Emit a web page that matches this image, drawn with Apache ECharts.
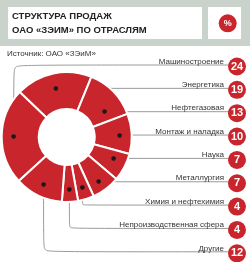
<!DOCTYPE html>
<html><head><meta charset="utf-8">
<script src="https://cdn.jsdelivr.net/npm/echarts@6/dist/echarts.min.js"></script>
<style>html,body{margin:0;padding:0;background:#fff}#c{width:250px;height:262px}</style>
</head><body><div id="c"></div>
<script>
const titleLines = ['СТРУКТУРА ПРОДАЖ', 'ОАО «ЗЭИМ» ПО ОТРАСЛЯМ'];
const unitLabel = '%';
const sourceText = 'Источник: ОАО «ЗЭиМ»';
const categories = ['Машиностроение', 'Энергетика', 'Нефтегазовая', 'Монтаж и наладка', 'Наука', 'Металлургия', 'Химия и нефтехимия', 'Непроизводственная сфера', 'Другие'];
const shares = [24, 19, 13, 10, 7, 7, 4, 4, 12];

const FONT = 'Liberation Sans, Arial, sans-serif';
const RED = '#c8262c';
const CX = 66.7, CY = 137, R0 = 28, R1 = 65, DOT_R = 53;
const ROW0 = 65, ROW_STEP = 23.35, LINE_END = 229, LABEL_RIGHT = 246;
const rowY = i => ROW0 + i * ROW_STEP;
// dot on the sector's mid-angle ray; slid onto its label row when that stays inside the ring
function dotAt(i, x, y) {
  const dx = x - CX, dy = y - CY, len = Math.sqrt(dx * dx + dy * dy) || 1;
  const px = CX + DOT_R * dx / len, py = CY + DOT_R * dy / len;
  const ry = rowY(i);
  const dist = Math.sqrt((px - CX) * (px - CX) + (ry - CY) * (ry - CY));
  if (Math.abs(ry - py) < 20 && dist > R0 + 3 && dist < R1 - 4) return [px, ry];
  return [px, py];
}

const data = categories.map((name, i) => ({ name: name, value: shares[i] }));
const common = { type: 'pie', center: [CX, CY], startAngle: 222.5, clockwise: true, avoidLabelOverlap: false, silent: true, animation: false, data: data };

const chart = echarts.init(document.getElementById('c'), null, { renderer: 'canvas' });
chart.setOption({
  animation: false,
  title: [
    { text: titleLines.join('\n'), left: 12, top: 10, padding: 0, textStyle: { fontFamily: FONT, fontSize: 9.5, fontWeight: 'bold', color: '#222', lineHeight: 13.4 } },
    { text: sourceText, left: 7, top: 49, padding: 0, textStyle: { fontFamily: FONT, fontSize: 8, fontWeight: 'normal', color: '#333', lineHeight: 10 } }
  ],
  graphic: [
    { type: 'rect', z: -10, shape: { x: 0, y: 0, width: 250, height: 46 }, style: { fill: '#c9d3cc' } },
    { type: 'rect', z: -9, shape: { x: 8, y: 7, width: 194, height: 32 }, style: { fill: '#fff' } },
    { type: 'rect', z: -9, shape: { x: 208, y: 7, width: 33, height: 32 }, style: { fill: '#fff' } },
    { type: 'circle', shape: { cx: 227.7, cy: 23.3, r: 9 }, style: { fill: RED } },
    { type: 'text', x: 227.7, y: 23.5, style: { text: unitLabel, fill: '#fff', font: 'bold 9px ' + FONT, textAlign: 'center', textVerticalAlign: 'middle' } }
  ],
  series: [
    Object.assign({}, common, {
      radius: [R0, R1],
      itemStyle: { color: RED, borderColor: '#fff', borderWidth: 2 },
      label: { show: false }, labelLine: { show: false }
    }),
    Object.assign({}, common, {
      radius: [0, DOT_R],
      itemStyle: { color: 'rgba(0,0,0,0)' },
      label: {
        show: true, position: 'outside', formatter: '{n|{b}}{v|{c}}',
        rich: {
          n: { fontFamily: FONT, fontSize: 8, color: '#333', lineHeight: 5, verticalAlign: 'top', padding: [0, 4, 0, 0] },
          v: { fontFamily: FONT, width: 18, height: 18, lineHeight: 18, align: 'center', backgroundColor: RED, borderRadius: 9, color: '#fff', fontWeight: 'bold', fontSize: 11 }
        }
      },
      labelLine: { show: true, length: 5, length2: 5, smooth: 0.06, lineStyle: { color: '#808080', width: 0.8 } },
      labelLayout: function (p) {
        const i = p.dataIndex, ry = rowY(i);
        const p0 = p.labelLinePoints[0];
        const d = dotAt(i, p0[0], p0[1]);
        return { x: LABEL_RIGHT, y: ry + 1.5, align: 'right', verticalAlign: 'middle', labelLinePoints: [d, [d[0], ry], [LINE_END, ry]] };
      }
    }),
    Object.assign({}, common, {
      z: 5,
      radius: [DOT_R - 12, DOT_R + 12],
      itemStyle: { color: 'rgba(0,0,0,0)' },
      label: { show: true, position: 'inside', formatter: '●', color: '#1a1a1a', fontSize: 6, fontFamily: 'DejaVu Sans' },
      labelLine: { show: false },
      labelLayout: function (p) {
        const r = p.labelRect;
        const d = dotAt(p.dataIndex, r.x + r.width / 2, r.y + r.height / 2);
        return { x: d[0], y: d[1], align: 'center', verticalAlign: 'middle' };
      }
    })
  ]
});
</script></body></html>
